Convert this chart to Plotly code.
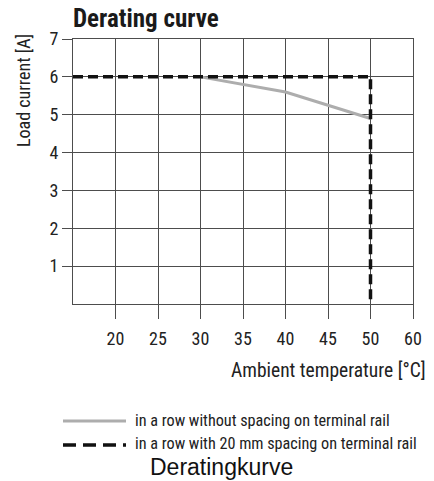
import plotly.graph_objects as go

# Data
x_categories = ["15", "20", "25", "30", "35", "40", "45", "50", "60"]
x_tick_labels = ["20", "25", "30", "35", "40", "45", "50", "60"]
y_ticks = [1, 2, 3, 4, 5, 6, 7]

no_spacing_temp = ["30", "40", "50"]
no_spacing_current = [6.0, 5.6, 4.9]

spacing_temp = ["15", "50", "50"]
spacing_current = [6.0, 6.0, 0.0]

series_names = ["in a row without spacing on terminal rail",
                "in a row with 20 mm spacing on terminal rail"]

NARROW = "Roboto Condensed, DejaVu Sans Condensed, sans-serif"
GRID = "#4d4d4d"
TXT = "#222222"

fig = go.Figure()
fig.add_trace(go.Scatter(x=no_spacing_temp, y=no_spacing_current, mode="lines",
                         line=dict(color="#adadad", width=3),
                         name=series_names[0], showlegend=False))
fig.add_trace(go.Scatter(x=spacing_temp, y=spacing_current, mode="lines",
                         line=dict(color="#111111", width=3.5, dash="10px,5px"),
                         name=series_names[1], showlegend=False))

fig.update_xaxes(type="category", categoryorder="array", categoryarray=x_categories,
                 range=[0, 8], tickmode="array", tickvals=x_tick_labels, ticktext=x_tick_labels,
                 showgrid=True, gridcolor=GRID, gridwidth=1,
                 showline=True, linecolor=GRID, linewidth=1.2, mirror=True,
                 ticks="outside", ticklen=14, tickcolor=GRID, tickwidth=1,
                 ticklabelstandoff=4,
                 tickfont=dict(family=NARROW, size=18, color=TXT), zeroline=False)
fig.update_yaxes(range=[0, 7], tickmode="array", tickvals=y_ticks,
                 showgrid=True, gridcolor=GRID, gridwidth=1,
                 showline=True, linecolor=GRID, linewidth=1.2, mirror=True,
                 ticks="outside", ticklen=10, tickcolor=GRID, tickwidth=1,
                 ticklabelstandoff=0,
                 tickfont=dict(family=NARROW, size=18, color=TXT), zeroline=False)

L, R, T, B = 73, 21, 39, 177
W, H = 434, 481
pw, ph = W - L - R, H - T - B

def px(x):
    return (x - L) / pw

def py(y):
    return (H - B - y) / ph

annotations = [
    dict(text="<b>Derating curve</b>", x=px(71), y=py(18), xref="paper", yref="paper",
         xanchor="left", yanchor="middle", showarrow=False,
         font=dict(family=NARROW, size=25, color="#1a1a1a")),
    dict(text="Load current [A]", x=px(24), y=py(91), xref="paper", yref="paper",
         xanchor="center", yanchor="middle", textangle=-90, showarrow=False,
         font=dict(family=NARROW, size=18, color=TXT)),
    dict(text="Ambient temperature [°C]", x=px(428), y=py(370), xref="paper", yref="paper",
         xanchor="right", yanchor="middle", showarrow=False,
         font=dict(family=NARROW, size=19.5, color=TXT)),
    dict(text=series_names[0], x=px(134), y=py(420), xref="paper", yref="paper",
         xanchor="left", yanchor="middle", showarrow=False, borderpad=0,
         font=dict(family=NARROW, size=16.2, color=TXT)),
    dict(text=series_names[1], x=px(134), y=py(444), xref="paper", yref="paper",
         xanchor="left", yanchor="middle", showarrow=False, borderpad=0,
         font=dict(family=NARROW, size=16.2, color=TXT)),
    dict(text="Deratingkurve", x=px(221), y=py(481), xref="paper", yref="paper",
         xanchor="center", yanchor="bottom", showarrow=False, borderpad=0,
         font=dict(family="Liberation Sans, Arial, sans-serif", size=23, color="#111")),
]

shapes = [
    dict(type="line", xref="paper", yref="paper", x0=px(63), x1=px(126), y0=py(421), y1=py(421),
         line=dict(color="#adadad", width=3)),
    dict(type="line", xref="paper", yref="paper", x0=px(63), x1=px(126), y0=py(445), y1=py(445),
         line=dict(color="#111111", width=3.5, dash="13px,7px")),
]

fig.update_layout(width=W, height=H, margin=dict(l=L, r=R, t=T, b=B),
                  plot_bgcolor="white", paper_bgcolor="white",
                  annotations=annotations, shapes=shapes, showlegend=False)

fig.write_html("out.html", config={"displayModeBar": False},
               post_script="document.body.style.margin='0px';")
